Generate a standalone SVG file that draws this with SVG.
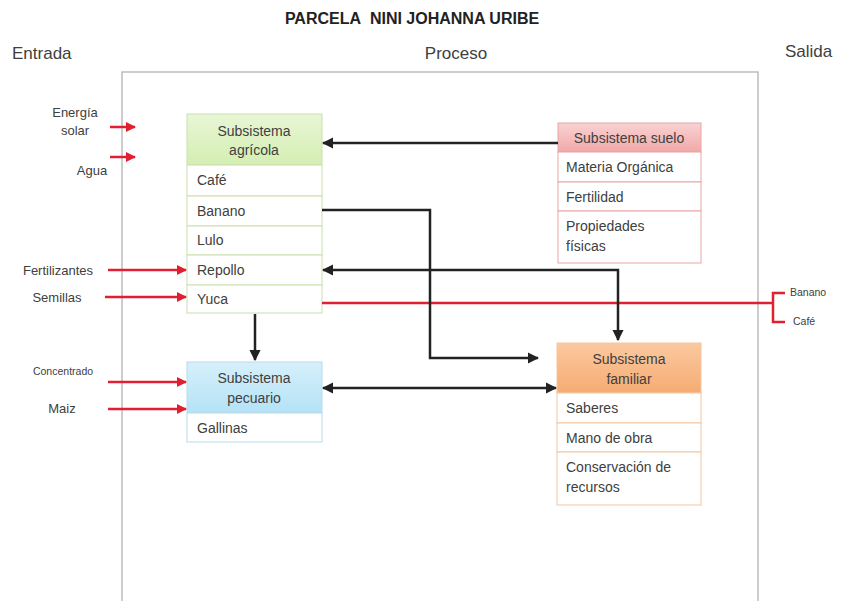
<svg xmlns="http://www.w3.org/2000/svg" width="842" height="601" viewBox="0 0 842 601">
<defs>
<marker id="ab" viewBox="0 0 10 10" refX="9" refY="5" markerWidth="4.5" markerHeight="4.5" orient="auto-start-reverse" markerUnits="strokeWidth"><path d="M0,0 L10,5 L0,10 z" fill="#222"/></marker>
<marker id="ar" viewBox="0 0 10 10" refX="9" refY="5" markerWidth="4" markerHeight="4" orient="auto" markerUnits="strokeWidth"><path d="M0,0 L10,5 L0,10 z" fill="#e02030"/></marker>
<linearGradient id="gG" x1="0" y1="0" x2="0" y2="1"><stop offset="0" stop-color="#e8f6d6"/><stop offset="1" stop-color="#d4eeb2"/></linearGradient>
<linearGradient id="gR" x1="0" y1="0" x2="0" y2="1"><stop offset="0" stop-color="#f9d2d2"/><stop offset="1" stop-color="#f2a8a8"/></linearGradient>
<linearGradient id="gB" x1="0" y1="0" x2="0" y2="1"><stop offset="0" stop-color="#d6f0fb"/><stop offset="1" stop-color="#b4e2f6"/></linearGradient>
<linearGradient id="gO" x1="0" y1="0" x2="0" y2="1"><stop offset="0" stop-color="#fbc9a0"/><stop offset="1" stop-color="#f6ab72"/></linearGradient>
</defs>
<style>
text{font-family:"Liberation Sans",Arial,sans-serif;fill:#404040}
.t{font-size:14px}
.h{font-size:14px;text-anchor:middle}
.lab{font-size:13px;text-anchor:middle}
.sm{font-size:10.5px}
.big{font-size:17px}
.row{fill:#fff}
.g{stroke:#c9e0ad;stroke-width:1}
.r{stroke:#e6a6a6;stroke-width:1}
.b{stroke:#b8dcea;stroke-width:1}
.o{stroke:#f3c5a0;stroke-width:1}
.blk{fill:none;stroke:#222;stroke-width:2.5}
.red{fill:none;stroke:#e02030;stroke-width:2.5}
</style>
<rect width="842" height="601" fill="#fff"/>
<text x="412" y="24" style="font-size:16px;font-weight:bold;text-anchor:middle;fill:#222">PARCELA&#160; NINI JOHANNA URIBE</text>
<text x="12" y="59" class="big">Entrada</text>
<text x="456" y="59" class="big" style="text-anchor:middle">Proceso</text>
<text x="785" y="57" class="big">Salida</text>
<rect x="122" y="72" width="636" height="540" fill="none" stroke="#bdbdbd" stroke-width="1.5"/>

<g id="entradas">
<text x="75" y="117" class="lab">Energía</text>
<text x="75" y="135" class="lab">solar</text>
<text x="92" y="175" class="lab">Agua</text>
<text x="58" y="275" class="lab">Fertilizantes</text>
<text x="57" y="302" class="lab">Semillas</text>
<text x="63" y="375" class="sm" style="text-anchor:middle">Concentrado</text>
<text x="62" y="413" class="lab">Maiz</text>
</g>

<g id="agricola">
<rect x="187" y="114" width="135" height="51" fill="url(#gG)" class="g"/>
<text x="254" y="136" class="h">Subsistema</text>
<text x="254" y="155" class="h">agrícola</text>
<rect x="187" y="165" width="135" height="31" class="row g"/>
<text x="197" y="185" class="t">Café</text>
<rect x="187" y="196" width="135" height="30" class="row g"/>
<text x="197" y="216" class="t">Banano</text>
<rect x="187" y="226" width="135" height="29" class="row g"/>
<text x="197" y="245" class="t">Lulo</text>
<rect x="187" y="255" width="135" height="30" class="row g"/>
<text x="197" y="275" class="t">Repollo</text>
<rect x="187" y="285" width="135" height="28" class="row g"/>
<text x="197" y="304" class="t">Yuca</text>
</g>

<g id="suelo">
<rect x="558" y="123" width="143" height="29" fill="url(#gR)" class="r"/>
<text x="629" y="143" class="h">Subsistema suelo</text>
<rect x="558" y="152" width="143" height="30" class="row r"/>
<text x="566" y="172" class="t">Materia Orgánica</text>
<rect x="558" y="182" width="143" height="29" class="row r"/>
<text x="566" y="202" class="t">Fertilidad</text>
<rect x="558" y="211" width="143" height="52" class="row r"/>
<text x="566" y="231" class="t">Propiedades</text>
<text x="566" y="251" class="t">físicas</text>
</g>

<g id="pecuario">
<rect x="187" y="362" width="135" height="51" fill="url(#gB)" class="b"/>
<text x="254" y="383" class="h">Subsistema</text>
<text x="254" y="403" class="h">pecuario</text>
<rect x="187" y="413" width="135" height="29" class="row b"/>
<text x="197" y="433" class="t">Gallinas</text>
</g>

<g id="familiar">
<rect x="557" y="343" width="144" height="50" fill="url(#gO)" class="o"/>
<text x="629" y="364" class="h">Subsistema</text>
<text x="629" y="384" class="h">familiar</text>
<rect x="557" y="393" width="144" height="30" class="row o"/>
<text x="566" y="413" class="t">Saberes</text>
<rect x="557" y="423" width="144" height="29" class="row o"/>
<text x="566" y="443" class="t">Mano de obra</text>
<rect x="557" y="452" width="144" height="53" class="row o"/>
<text x="566" y="472" class="t">Conservación de</text>
<text x="566" y="492" class="t">recursos</text>
</g>

<g id="salidas">
<text x="790" y="296" class="sm">Banano</text>
<text x="793" y="325" class="sm">Café</text>
</g>

<g id="connectors">
<path class="red" d="M110,127 H135" marker-end="url(#ar)"/>
<path class="red" d="M110,157 H135" marker-end="url(#ar)"/>
<path class="red" d="M108,270 H186" marker-end="url(#ar)"/>
<path class="red" d="M105,297 H186" marker-end="url(#ar)"/>
<path class="red" d="M108,382 H186" marker-end="url(#ar)"/>
<path class="red" d="M108,409 H186" marker-end="url(#ar)"/>
<path class="red" d="M322,303 H773"/>
<path class="red" d="M785,293 H773 V322 H785"/>
<path class="blk" d="M558,143 H323" marker-end="url(#ab)"/>
<path class="blk" d="M322,210 H430 V358 H538" marker-end="url(#ab)"/>
<path class="blk" d="M323,270 H618 V340" marker-start="url(#ab)" marker-end="url(#ab)"/>
<path class="blk" d="M255,314 V360" marker-end="url(#ab)"/>
<path class="blk" d="M323,388 H556" marker-start="url(#ab)" marker-end="url(#ab)"/>
</g>
</svg>
